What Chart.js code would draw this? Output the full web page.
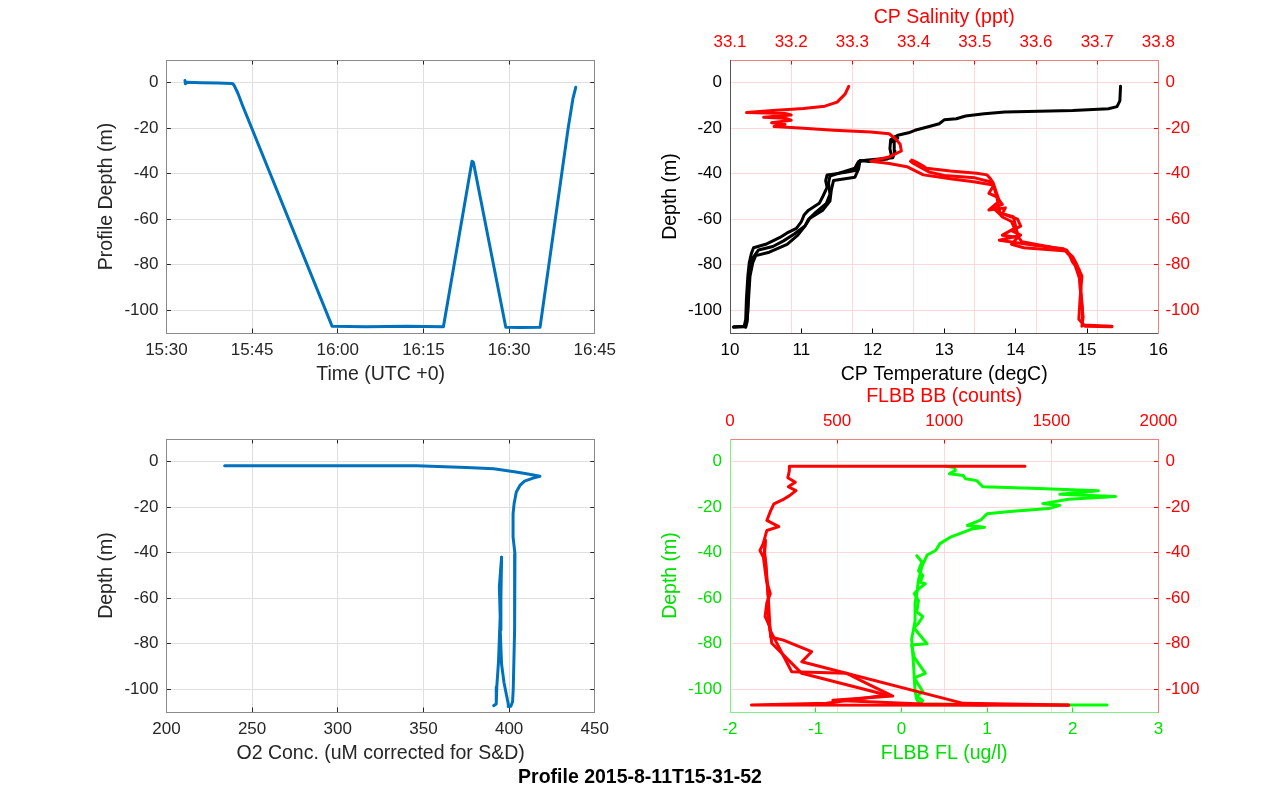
<!DOCTYPE html>
<html><head><meta charset="utf-8">
<script src="https://cdn.jsdelivr.net/npm/chart.js@4.4.1/dist/chart.umd.min.js"></script>
<style>
html,body{margin:0;padding:0;background:#fff;}
body{width:1280px;height:800px;position:relative;overflow:hidden;font-family:"Liberation Sans",Arial,sans-serif;}
canvas{position:absolute;}
#suptitle{position:absolute;left:0;width:1280px;top:765.5px;text-align:center;font-weight:bold;font-size:19.5px;line-height:20px;color:#000;white-space:nowrap;}
</style></head><body>
<canvas id="c1" width="640" height="400" style="left:0;top:0"></canvas>
<canvas id="c2" width="640" height="400" style="left:640px;top:0"></canvas>
<canvas id="c3" width="640" height="420" style="left:0;top:380px"></canvas>
<canvas id="c4" width="640" height="420" style="left:640px;top:380px"></canvas>
<div id="suptitle">Profile 2015-8-11T15-31-52</div>
<script>
// ---------------- DATA ----------------
const depthTicks  = [-100, -80, -60, -40, -20, 0];
const depthLabels = ['-100', '-80', '-60', '-40', '-20', '0'];
const timeLabels  = ['15:30', '15:45', '16:00', '16:15', '16:30', '16:45'];
const tempTicks   = [10, 11, 12, 13, 14, 15, 16];
const salTicks    = [33.1, 33.2, 33.3, 33.4, 33.5, 33.6, 33.7, 33.8];
const salLabels   = ['33.1', '33.2', '33.3', '33.4', '33.5', '33.6', '33.7', '33.8'];
const o2Ticks     = [200, 250, 300, 350, 400, 450];
const flTicks     = [-2, -1, 0, 1, 2, 3];
const bbTicks     = [0, 500, 1000, 1500, 2000];

// Profile depth vs time
const profTime  = ['15:33:15','15:33:20','15:33:40','15:36:00','15:39:00','15:41:30','15:41:50','15:42:30','15:43:20','15:59:00','16:05:00','16:12:00','16:18:30','16:23:30','16:23:45','16:29:25','16:32:00','16:35:25','16:40:20','16:41:10','16:41:40'];
const profDepth = [1.0, -0.4, 0.2, 0.0, -0.1, -0.3, -1.0, -4.5, -10, -107, -107.3, -107, -107.2, -34.5, -35, -107.5, -107.6, -107.5, -20, -7, -2];

// CP temperature (degC, depth)
const tempCastA = [[15.47,-1.5],[15.46,-8],[15.42,-10.5],[15.3,-11.4],[14.8,-12.2],[13.85,-12.9],[13.56,-13.6],[13.3,-14.6],[13.17,-15.8],[13.0,-16.3],[12.93,-18],[12.79,-19.2],[12.59,-20.9],[12.5,-22],[12.35,-23.1],[12.3,-23.9],[12.25,-25],[12.24,-29],[12.26,-32],[12.2,-33.5],[11.95,-34.6],[11.82,-34.2],[11.78,-36],[11.77,-38.5],[11.6,-39.5],[11.36,-40.5],[11.34,-43],[11.36,-46],[11.3,-50],[11.25,-53],[11.1,-56],[11.04,-58],[11.0,-61],[10.93,-64],[10.8,-66],[10.7,-68],[10.5,-71],[10.33,-72.5],[10.3,-75],[10.27,-79],[10.25,-85],[10.23,-95],[10.22,-104],[10.2,-107],[10.05,-107.3]];
const tempCastB = [[10.05,-107.5],[10.2,-107.3],[10.24,-104],[10.26,-95],[10.28,-85],[10.32,-79],[10.36,-76],[10.55,-74.5],[10.8,-71],[10.95,-67],[11.05,-63],[11.12,-59.5],[11.3,-56],[11.4,-52],[11.42,-47],[11.45,-43],[11.75,-41.5],[11.8,-38],[11.82,-34.5]];
const tempCastC = [[11.82,-34.5],[11.9,-34.1],[12.28,-33],[12.31,-30],[12.3,-26],[12.35,-24.3],[12.3,-24.6],[12.26,-26]];
const tempCastD = [[11.8,-34.6],[11.75,-37.5],[11.65,-38.5],[11.4,-41],[11.38,-44],[11.4,-49],[11.35,-53],[11.2,-57],[11.1,-60],[11.05,-63],[10.9,-66.5],[10.75,-69.5],[10.6,-72],[10.4,-73.5],[10.32,-77],[10.28,-82],[10.26,-90],[10.25,-100],[10.24,-105],[10.22,-107.5]];

// CP salinity (ppt, depth)
const salCastA = [[33.294,-1.6],[33.288,-5],[33.275,-8.5],[33.255,-10.3],[33.22,-11.3],[33.17,-12.2],[33.127,-13.1],[33.19,-13.5],[33.2,-14.2],[33.155,-15.2],[33.19,-15.6],[33.2,-16.5],[33.168,-17.6],[33.19,-18.3],[33.172,-19.2],[33.22,-20],[33.27,-20.9],[33.33,-21.7],[33.36,-22.4],[33.37,-24.5],[33.378,-27],[33.38,-30],[33.361,-32.5],[33.33,-34.5],[33.36,-35.5],[33.389,-36.9],[33.416,-40.5],[33.46,-42.2],[33.498,-43.5],[33.53,-44.9],[33.536,-50],[33.541,-57.3],[33.563,-58.9],[33.571,-67.7],[33.577,-69.9],[33.65,-73.5],[33.661,-77.9],[33.672,-86.7],[33.676,-100],[33.676,-106.5],[33.724,-107]];
const salCastB = [[33.724,-107.3],[33.68,-107],[33.67,-104],[33.672,-95],[33.675,-85],[33.665,-79],[33.66,-76.5],[33.65,-74],[33.58,-72.5],[33.56,-71],[33.57,-68],[33.545,-67],[33.565,-64],[33.56,-61],[33.545,-59],[33.54,-57.5],[33.53,-55],[33.545,-53.5],[33.535,-50],[33.523,-48.6],[33.53,-45.5],[33.525,-43.5],[33.5,-41.8],[33.45,-40.8],[33.425,-39.2],[33.41,-37],[33.4,-35.5],[33.395,-34.5]];
const salCastC = [[33.397,-34],[33.405,-35],[33.415,-36.5],[33.421,-37.6],[33.46,-38.8],[33.503,-39.8],[33.52,-40.5],[33.525,-42],[33.53,-44],[33.535,-48],[33.54,-52],[33.523,-55.9],[33.55,-55],[33.545,-57.5],[33.57,-60],[33.575,-63],[33.56,-65],[33.575,-67],[33.54,-69.2],[33.6,-71.5],[33.645,-73],[33.655,-76],[33.66,-79],[33.67,-82],[33.672,-90],[33.677,-103],[33.675,-107]];

// O2 concentration (uM, depth)
const o2CastA = [[234,-1.8],[300,-1.8],[346,-1.8],[375,-2.5],[391,-3.1],[404,-4.5],[411,-5.4],[418,-6.4],[414,-7.2],[409,-8.5],[406.3,-10.4],[404.2,-13.3],[402.9,-18.5],[402.3,-22.9],[402.3,-33],[403.4,-40.5],[403.4,-58],[403,-74],[402.4,-100],[402,-105.5],[401,-107.5],[399.8,-107.6]];
const o2CastB = [[399.8,-107.6],[399.5,-106.5],[397,-97],[395.6,-89],[394.8,-74],[395.2,-60],[395.6,-42]];
const o2CastC = [[395.6,-42],[394.3,-55],[394.8,-68],[393.8,-88],[392.8,-99],[392.5,-106.5],[391,-107.2]];

// FLBB fluorescence (ug/l, depth)
const flCastA = [[0.52,-2],[0.62,-2.5],[0.63,-3.8],[0.56,-5.3],[0.72,-6],[0.75,-7.5],[0.88,-8.3],[0.95,-11],[1.6,-11.8],[2.3,-12.7],[1.85,-14.3],[2.2,-14.8],[2.5,-15.3],[1.95,-16.5],[1.65,-18.4],[1.85,-19.2],[1.72,-20.6],[1.3,-21.8],[1.0,-22.9],[0.93,-25.5],[0.77,-28],[0.97,-28.8],[0.82,-29.6],[0.58,-33],[0.45,-36],[0.4,-39],[0.3,-41],[0.24,-46],[0.2,-52],[0.18,-58],[0.16,-62],[0.16,-70],[0.12,-78],[0.14,-88],[0.16,-101],[0.18,-104.5],[0.22,-106.5],[1.97,-106.9],[2.4,-106.9]];
const flCastB = [[0.18,-41.3],[0.24,-44],[0.2,-48],[0.25,-50],[0.22,-53],[0.28,-53.6],[0.2,-56],[0.15,-58],[0.2,-61],[0.18,-66],[0.25,-68],[0.2,-71],[0.15,-73],[0.2,-75.5],[0.3,-80],[0.12,-80.5],[0.15,-86],[0.28,-93],[0.15,-95],[0.25,-101],[0.18,-103],[0.25,-105],[0.2,-106.8]];

// FLBB backscatter (counts, depth)
const bbCastA = [[1377,-2],[277,-2],[277,-4],[270,-7],[305,-9],[272,-11],[308,-12.7],[278,-14.9],[252,-16.4],[205,-18.5],[190,-21.5],[172,-25.8],[228,-28.5],[172,-30.2],[155,-36],[140,-39],[156,-42],[170,-52],[188,-58],[172,-62],[164,-68],[186,-72.6],[190,-77],[249,-78.4],[381,-83.5],[335,-87.9],[1089,-106.2],[1581,-106.9]];
const bbCastB = [[1581,-107],[100,-106.9],[451,-106.2],[731,-102.5],[335,-93],[195,-79.8],[187,-73.9],[182,-65],[175,-55],[168,-45],[160,-40],[165,-34.5]];
const bbCastC = [[165,-34.5],[162,-40],[170,-50],[180,-60],[179,-69.6],[187,-74],[288,-92.3],[545,-93],[640,-97.5],[760,-103],[480,-104.8],[900,-106.5],[1200,-106.9]];

// ---------------- HELPERS ----------------
const FONT = '"Liberation Sans", Arial, sans-serif';
const TICK_FS = 17, LABEL_FS = 19.5, TLEN = 4.5;
const GRAY_TXT = '#262626', GRAY_BORDER = '#8a8a8a', GRAY_GRID = '#dfdfdf';
const RED = '#ff0000', RED_BORDER = '#ee8080', RED_GRID = '#ffd9d9';
const GREEN = '#00ff00', GREEN_TXT = '#00e000', GREEN_BORDER = '#80ee80';
const BLUE = '#0072bd';

const toMin = t => { const [h, m, s] = t.split(':').map(Number); return h * 60 + m + (s || 0) / 60 - (15 * 60 + 30); };
const timeTicks = timeLabels.map(toMin);
const pts = arr => arr.map(([x, y]) => ({x, y}));

function axis(o) {
  return {
    type: 'linear', position: o.position, min: o.min, max: o.max,
    afterBuildTicks: s => { s.ticks = o.vals.map(v => ({value: v})); },
    afterFit: s => { if (s.isHorizontal()) s.height = o.size; else s.width = o.size; },
    ticks: {
      display: !!o.labels, autoSkip: false, maxRotation: 0, minRotation: 0,
      color: o.color, font: {family: FONT, size: TICK_FS}, padding: o.tickPad || 0,
      callback: (v, i) => o.labels ? o.labels[i] : ''
    },
    grid: {
      display: true, drawOnChartArea: !!o.gridColor, color: o.gridColor || 'rgba(0,0,0,0)',
      lineWidth: 1, drawTicks: true, tickLength: -TLEN, tickColor: o.tickColor, tickWidth: 1
    },
    border: {display: true, color: o.borderColor, width: 1},
    title: o.title ? {display: true, text: o.title, color: o.color,
      font: {family: FONT, size: LABEL_FS}, padding: o.titlePad} : {display: false}
  };
}

function line(data, color, xAxisID, yAxisID, order) {
  return {data: pts(data), showLine: true, borderColor: color, backgroundColor: color,
    borderWidth: 3, pointRadius: 0, pointHoverRadius: 0, borderJoinStyle: 'round',
    borderCapStyle: 'round', xAxisID, yAxisID, order};
}

function makeChart(id, datasets, scales) {
  return new Chart(document.getElementById(id), {
    type: 'scatter',
    data: {datasets},
    options: {
      responsive: false, maintainAspectRatio: false, animation: false, devicePixelRatio: 1,
      events: [], layout: {padding: 0},
      plugins: {legend: {display: false}, tooltip: {enabled: false}},
      scales
    }
  });
}

const X_TICKPAD = 12.1, L_TICKPAD = 12.5, R_TICKPAD = 11.5;

// ---------------- TOP LEFT: depth vs time ----------------
const profData = profTime.map((t, i) => [toMin(t), profDepth[i]]);
makeChart('c1', [line(profData, BLUE, 'x', 'y', 0)], {
  x:  axis({position: 'bottom', min: 0, max: 75, vals: timeTicks, labels: timeLabels, color: GRAY_TXT,
            borderColor: GRAY_BORDER, gridColor: GRAY_GRID, tickColor: GRAY_TXT, size: 67,
            tickPad: X_TICKPAD, title: 'Time (UTC +0)', titlePad: 13.3}),
  x2: axis({position: 'top', min: 0, max: 75, vals: timeTicks, labels: null, color: GRAY_TXT,
            borderColor: GRAY_BORDER, gridColor: null, tickColor: GRAY_TXT, size: 60}),
  y:  axis({position: 'left', min: -110, max: 10, vals: depthTicks, labels: depthLabels, color: GRAY_TXT,
            borderColor: GRAY_BORDER, gridColor: GRAY_GRID, tickColor: GRAY_TXT, size: 166.4,
            tickPad: L_TICKPAD, title: 'Profile Depth (m)', titlePad: 94.8}),
  y2: axis({position: 'right', min: -110, max: 10, vals: depthTicks, labels: null, color: GRAY_TXT,
            borderColor: GRAY_BORDER, gridColor: null, tickColor: GRAY_TXT, size: 45.2})
});

// ---------------- TOP RIGHT: temperature & salinity ----------------
makeChart('c2', [
  line(salCastA, RED, 'x2', 'y2', 0), line(salCastB, RED, 'x2', 'y2', 1), line(salCastC, RED, 'x2', 'y2', 2),
  line(tempCastA, '#000', 'x', 'y', 3), line(tempCastB, '#000', 'x', 'y', 4),
  line(tempCastC, '#000', 'x', 'y', 5), line(tempCastD, '#000', 'x', 'y', 6)
], {
  x:  axis({position: 'bottom', min: 10, max: 16, vals: tempTicks, labels: tempTicks.map(String), color: '#000',
            borderColor: '#555', gridColor: null, tickColor: '#000', size: 67,
            tickPad: X_TICKPAD, title: 'CP Temperature (degC)', titlePad: 13.3}),
  x2: axis({position: 'top', min: 33.1, max: 33.8, vals: salTicks, labels: salLabels, color: RED,
            borderColor: RED_BORDER, gridColor: RED_GRID, tickColor: RED, size: 60,
            tickPad: X_TICKPAD, title: 'CP Salinity (ppt)', titlePad: 5.8}),
  y:  axis({position: 'left', min: -110, max: 10, vals: depthTicks, labels: depthLabels, color: '#000',
            borderColor: '#555', gridColor: null, tickColor: '#000', size: 90,
            tickPad: L_TICKPAD, title: 'Depth (m)', titlePad: 19.3}),
  y2: axis({position: 'right', min: -110, max: 10, vals: depthTicks, labels: depthLabels, color: RED,
            borderColor: RED_BORDER, gridColor: RED_GRID, tickColor: RED, size: 121.6, tickPad: R_TICKPAD})
});

// ---------------- BOTTOM LEFT: oxygen ----------------
makeChart('c3', [
  line(o2CastA, BLUE, 'x', 'y', 0), line(o2CastB, BLUE, 'x', 'y', 1), line(o2CastC, BLUE, 'x', 'y', 2)
], {
  x:  axis({position: 'bottom', min: 200, max: 450, vals: o2Ticks, labels: o2Ticks.map(String), color: GRAY_TXT,
            borderColor: GRAY_BORDER, gridColor: GRAY_GRID, tickColor: GRAY_TXT, size: 88,
            tickPad: X_TICKPAD, title: 'O2 Conc. (uM corrected for S&D)', titlePad: 34.3}),
  x2: axis({position: 'top', min: 200, max: 450, vals: o2Ticks, labels: null, color: GRAY_TXT,
            borderColor: GRAY_BORDER, gridColor: null, tickColor: GRAY_TXT, size: 59}),
  y:  axis({position: 'left', min: -110, max: 10, vals: depthTicks, labels: depthLabels, color: GRAY_TXT,
            borderColor: GRAY_BORDER, gridColor: GRAY_GRID, tickColor: GRAY_TXT, size: 166.4,
            tickPad: L_TICKPAD, title: 'Depth (m)', titlePad: 94.8}),
  y2: axis({position: 'right', min: -110, max: 10, vals: depthTicks, labels: null, color: GRAY_TXT,
            borderColor: GRAY_BORDER, gridColor: null, tickColor: GRAY_TXT, size: 45.2})
});

// ---------------- BOTTOM RIGHT: fluorescence & backscatter ----------------
makeChart('c4', [
  line(bbCastA, RED, 'x2', 'y2', 0), line(bbCastB, RED, 'x2', 'y2', 1), line(bbCastC, RED, 'x2', 'y2', 2),
  line(flCastA, GREEN, 'x', 'y', 3), line(flCastB, GREEN, 'x', 'y', 4)
], {
  x:  axis({position: 'bottom', min: -2, max: 3, vals: flTicks, labels: flTicks.map(String), color: GREEN_TXT,
            borderColor: GREEN_BORDER, gridColor: null, tickColor: GREEN, size: 88,
            tickPad: X_TICKPAD, title: 'FLBB FL (ug/l)', titlePad: 34.3}),
  x2: axis({position: 'top', min: 0, max: 2000, vals: bbTicks, labels: bbTicks.map(String), color: RED,
            borderColor: RED_BORDER, gridColor: RED_GRID, tickColor: RED, size: 59,
            tickPad: X_TICKPAD, title: 'FLBB BB (counts)', titlePad: 5.3}),
  y:  axis({position: 'left', min: -110, max: 10, vals: depthTicks, labels: depthLabels, color: GREEN_TXT,
            borderColor: GREEN_BORDER, gridColor: null, tickColor: GREEN, size: 90,
            tickPad: L_TICKPAD, title: 'Depth (m)', titlePad: 19.3}),
  y2: axis({position: 'right', min: -110, max: 10, vals: depthTicks, labels: depthLabels, color: RED,
            borderColor: RED_BORDER, gridColor: RED_GRID, tickColor: RED, size: 121.6, tickPad: R_TICKPAD})
});
</script>
</body></html>
